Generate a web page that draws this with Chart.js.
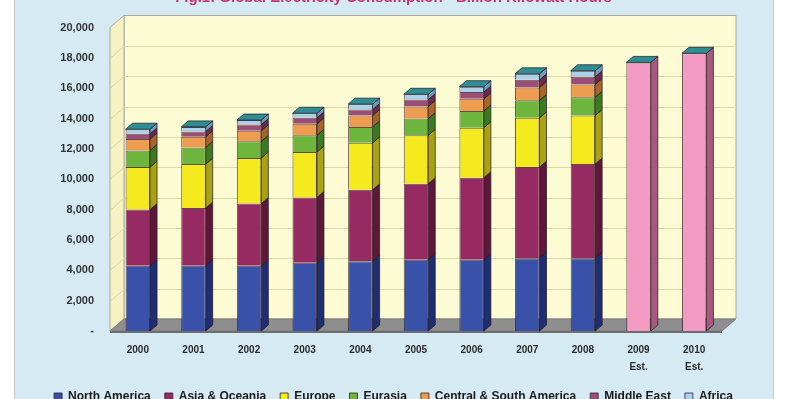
<!DOCTYPE html>
<html>
<head>
<meta charset="utf-8">
<script src="https://cdn.jsdelivr.net/npm/chart.js@4"></script>
<style>
  html, body { margin: 0; padding: 0; background: #fff; overflow: hidden; }
  #wrap { position: relative; width: 787px; height: 399px; overflow: hidden; }
  #panel { position: absolute; left: 14px; top: 0; width: 758px; height: 399px; background: #d6eaf4;
           border-left: 1px solid #c9c9c9; border-right: 1px solid #c9c9c9; }
  #chart { position: absolute; left: 0; top: -13px; }
</style>
</head>
<body>
<div id="wrap">
  <div id="panel"></div>
  <canvas id="chart" width="787" height="426"></canvas>
</div>
<script>
const years = ['2000', '2001', '2002', '2003', '2004', '2005', '2006', '2007', '2008', ['2009', 'Est.'], ['2010', 'Est.']]

// billion kilowatt hours
const northAmerica = [4300, 4300, 4300, 4500, 4600, 4700, 4700, 4800, 4800, null, null]
const asiaOceania  = [3700, 3800, 4100, 4300, 4700, 5000, 5400, 6000, 6200, null, null]
const europe       = [2800, 2900, 3000, 3000, 3100, 3200, 3300, 3250, 3200, null, null]
const eurasia      = [1100, 1100, 1100, 1100, 1050, 1100, 1100, 1150, 1200, null, null]
const centralSouthAmerica = [750, 700, 700, 750, 750, 800, 800, 850, 850, null, null]
const middleEast   = [350, 350, 400, 400, 400, 450, 450, 500, 500, null, null]
const africa       = [300, 300, 300, 300, 350, 350, 350, 400, 400, null, null]
const estimate     = [null, null, null, null, null, null, null, null, null, 17700, 18300]

const yTicks = [0, 2000, 4000, 6000, 8000, 10000, 12000, 14000, 16000, 18000, 20000]

const DX = 14, DY = -12      // depth of the walls
const BX = 7, BY = -6        // depth of each bar

function poly(ctx, pts, fill, stroke) {
  ctx.beginPath()
  pts.forEach((p, i) => i ? ctx.lineTo(p[0], p[1]) : ctx.moveTo(p[0], p[1]))
  ctx.closePath()
  if (fill) { ctx.fillStyle = fill; ctx.fill() }
  if (stroke) { ctx.strokeStyle = stroke; ctx.lineWidth = 1; ctx.stroke() }
}

const depth3d = {
  id: 'depth3d',
  beforeDatasetsDraw(chart) {
    const { ctx, chartArea: a, scales: { y } } = chart
    ctx.save()
    // back wall
    poly(ctx, [[a.left + DX, a.top + DY], [a.right + DX, a.top + DY], [a.right + DX, a.bottom + DY], [a.left + DX, a.bottom + DY]], '#fdfbd4', '#a8a8a0')
    // left wall
    poly(ctx, [[a.left, a.top], [a.left + DX, a.top + DY], [a.left + DX, a.bottom + DY], [a.left, a.bottom]], '#f6f2c4', '#a8a8a0')
    // grid lines on the walls
    ctx.strokeStyle = '#dcd8a8'
    ctx.lineWidth = 1
    yTicks.slice(1, -1).forEach(v => {
      const py = Math.round(y.getPixelForValue(v)) + 0.5
      ctx.beginPath()
      ctx.moveTo(a.left, py)
      ctx.lineTo(a.left + DX, py + DY)
      ctx.lineTo(a.right + DX, py + DY)
      ctx.stroke()
    })
    // floor
    poly(ctx, [[a.left, a.bottom], [a.left + DX, a.bottom + DY], [a.right + DX, a.bottom + DY], [a.right, a.bottom]], '#8e8e8e', '#7a7a7a')
    poly(ctx, [[a.left, a.bottom], [a.right, a.bottom], [a.right, a.bottom + 2], [a.left, a.bottom + 2]], '#6e6e6e')
    ctx.restore()
  },
  afterDatasetsDraw(chart) {
    const ctx = chart.ctx
    const top = {}
    ctx.save()
    chart.data.datasets.forEach((ds, di) => {
      const meta = chart.getDatasetMeta(di)
      meta.data.forEach((bar, i) => {
        if (!ds.data[i]) return
        const { x, y, base, width } = bar.getProps(['x', 'y', 'base', 'width'], true)
        const r = x + width / 2
        poly(ctx, [[r, y], [r + BX, y + BY], [r + BX, base + BY], [r, base]], ds.sideColor, 'rgba(30,20,30,0.7)')
        top[i] = { x, y, width }
      })
    })
    Object.values(top).forEach(({ x, y, width }) => {
      const l = x - width / 2, r = x + width / 2
      poly(ctx, [[l, y], [l + BX, y + BY], [r + BX, y + BY], [r, y]], '#2f8d96', 'rgba(30,20,30,0.7)')
    })
    ctx.restore()
  }
}

function series(label, data, color, side) {
  return { label, data, backgroundColor: color, sideColor: side, borderColor: 'rgba(40,20,30,0.75)', borderWidth: 1, stack: 's' }
}

new Chart(document.getElementById('chart'), {
  type: 'bar',
  data: {
    labels: years,
    datasets: [
      series('North America', northAmerica, '#3a51a9', '#1f2d72'),
      series('Asia & Oceania', asiaOceania, '#962a63', '#5e1639'),
      series('Europe', europe, '#f4ea1e', '#a9a214'),
      series('Eurasia', eurasia, '#6db53c', '#3c7a1f'),
      series('Central & South America', centralSouthAmerica, '#ee9c50', '#a8642a'),
      series('Middle East', middleEast, '#9b4d78', '#682b4f'),
      series('Africa', africa, '#a9d1ee', '#6f9dc0'),
      series('Estimate', estimate, '#f49bc3', '#a65b7e')
    ]
  },
  options: {
    responsive: false,
    animation: false,
    devicePixelRatio: 1,
    datasets: { bar: { categoryPercentage: 1, barPercentage: 0.44 } },
    layout: { padding: 0 },
    scales: {
      x: {
        stacked: true,
        grid: { display: false },
        border: { display: false },
        ticks: { color: '#2a2a2a', font: { family: 'Liberation Sans, Arial', size: 10, weight: 'bold', lineHeight: 1.7 }, padding: 3, maxRotation: 0 },
        afterFit: s => { s.height = 46 }
      },
      y: {
        stacked: true,
        min: 0,
        max: 20000,
        grid: { display: false },
        border: { display: false },
        afterBuildTicks: s => { s.ticks = yTicks.map(v => ({ value: v })) },
        ticks: {
          color: '#333',
          padding: 8,
          font: { family: 'Liberation Sans, Arial', size: 11, weight: 'bold' },
          callback: v => v === 0 ? '-' : v.toLocaleString('en-US')
        },
        afterFit: s => { s.width = 110 }
      },
      // empty axis that only keeps room on the right
      spacer: {
        position: 'right',
        display: true,
        grid: { display: false },
        border: { display: false },
        ticks: { display: false },
        afterFit: s => { s.width = 65 }
      }
    },
    plugins: {
      title: {
        display: true,
        text: 'Fig.1: Global Electricity Consumption - Billion Kilowatt Hours',
        color: '#c8336b',
        font: { family: 'Liberation Sans, Arial', size: 15, weight: 'bold' },
        padding: { top: 2, bottom: 20.5 }
      },
      legend: {
        position: 'bottom',
        labels: {
          color: '#1a1a1a',
          boxWidth: 8,
          boxHeight: 8,
          padding: 14,
          font: { family: 'Liberation Sans, Arial', size: 12, weight: 'bold' },
          filter: item => item.text !== 'Estimate'
        }
      },
      tooltip: { enabled: false }
    }
  },
  plugins: [depth3d]
})
</script>
</body>
</html>
